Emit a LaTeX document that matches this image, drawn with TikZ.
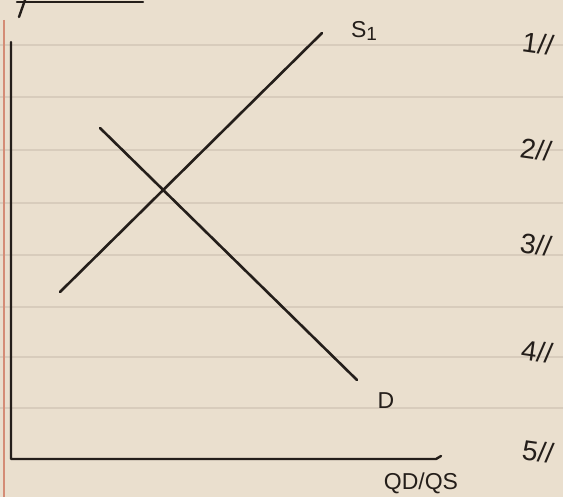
\documentclass[tikz,border=0pt]{standalone}
\usepackage{fontspec}
\setmainfont{Liberation Sans}
\usetikzlibrary{positioning}
\definecolor{paper}{RGB}{234,223,206}
\definecolor{rule}{RGB}{216,204,188}
\definecolor{margin}{RGB}{212,140,118}
\definecolor{ink}{RGB}{36,30,26}

\begin{document}
\begin{tikzpicture}[
  x = 1pt, y = -1pt,
  every node/.style = {font=\fontsize{23}{25}\selectfont, text=ink, inner sep=1pt},
  curve/.style  = {draw=ink, line width=2.6pt, line cap=round},
  axis/.style   = {draw=ink, line width=2.4pt, line cap=round, line join=round},
  ruled/.style  = {draw=rule, line width=1.3pt},
  tally/.style  = {font=\fontsize{28}{30}\selectfont, rotate=-8}
]

% ---- the sheet of lined paper -----------------------------------------
\fill[paper] (0,0) rectangle (563,497);
\useasboundingbox (0,0) rectangle (563,497);
\foreach \y in {45,97,150,203,255,307,357,408}
  \draw[ruled] (0,\y) -- (563,\y);
\draw[margin, line width=2.5pt] (4,20) -- (4,497);
% cut-off writing along the top edge
\draw[axis] (17,2) -- (143,2);
\draw[axis] (25,0) -- (19,17);

% ---- axes ---------------------------------------------------------------
\coordinate (ytop) at (11,42);
\coordinate (orig) at (11,459);
\coordinate (xend) at (436,459);
\draw[axis] (ytop) -- (orig) -- (xend) -- ++(5,-3);
\node[at={(421,483)}] (qty) {QD/QS};

% ---- supply and demand --------------------------------------------------
\coordinate (s1lo) at (60,292);
\coordinate (s1hi) at (322,33);
\coordinate (dhi)  at (100,128);
\coordinate (dlo)  at (357,380);
\draw[curve] (s1lo) -- (s1hi);
\draw[curve] (dhi)  -- (dlo);
\node[at={(364,31)}]  (s1lab) {S\raisebox{-3pt}{\fontsize{19}{20}\selectfont 1}};
\node[at={(386,401)}] (dlab)  {D};

% ---- numbering in the right margin ------------------------------------
\node[tally, at={(538,44)}]  (n1) {1//};
\node[tally, at={(536,150)}] (n2) {2//};
\node[tally, at={(536,245)}] (n3) {3//};
\node[tally, at={(537,352)}] (n4) {4//};
\node[tally, at={(538,452)}] (n5) {5//};

\end{tikzpicture}
\end{document}
